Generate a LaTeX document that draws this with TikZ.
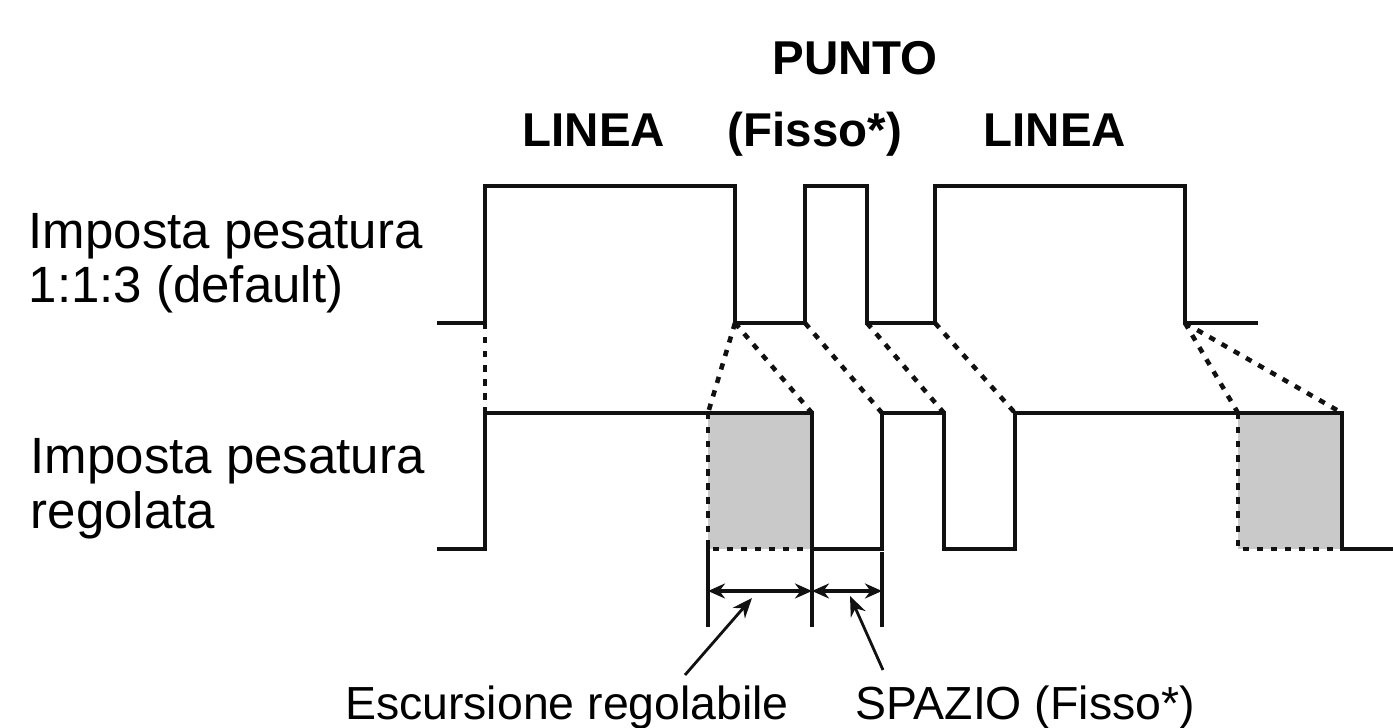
\documentclass[tikz,border=0pt]{standalone}
\usepackage{fontspec}
\setmainfont{Liberation Sans}
\usetikzlibrary{arrows.meta,positioning,calc}
\definecolor{ink}{HTML}{111111}
\definecolor{boxgray}{HTML}{C9C9C9}
\tikzset{
  wave/.style={draw=ink, line width=1.2pt, line join=miter},
  guide/.style={draw=ink, line width=1.3pt, dash pattern=on 1.8pt off 2.2pt},
  extline/.style={draw=ink, line width=0.9pt},
  dimarr/.style={{Stealth[length=1.7mm,width=1.5mm]}-{Stealth[length=1.7mm,width=1.5mm]}, draw=ink, line width=0.9pt},
  pointer/.style={-{Stealth[length=2mm,width=1.6mm]}, draw=ink, line width=0.8pt},
  rowlabel/.style={anchor=west, align=left, inner sep=0pt, font=\fontsize{14.5}{15.5}\selectfont},
  title/.style={anchor=base, inner sep=0pt, font=\fontsize{13.5}{15}\selectfont\bfseries},
  note/.style={anchor=base, inner sep=0pt, font=\fontsize{13.2}{15}\selectfont}
}

\begin{document}
\begin{tikzpicture}[x=0.01cm, y=-0.01cm]
    \useasboundingbox (0,0) rectangle (1393,728);
    % labels
    \node[rowlabel] (def) at (28,263) {Imposta pesatura\\1:1:3 (default)};
    \node[rowlabel] (reg) at (30,489) {Imposta pesatura\\regolata};
    \node[title] (punto) at (855,75) {PUNTO};
    \node[title] (linea1) at (594,147) {LINEA};
    \node[title] (fisso) at (815,147) {(Fisso*)};
    \node[title] (linea2) at (1055,147) {LINEA};
    % edges of the two waveforms
    \coordinate (t1) at (485,323); \coordinate (t2) at (735,323);
    \coordinate (t3) at (805,323); \coordinate (t4) at (867,323);
    \coordinate (t5) at (935,323); \coordinate (t6) at (1185,323);
    \coordinate (b1) at (485,413); \coordinate (b2a) at (708,413);
    \coordinate (b2) at (812,413); \coordinate (b3) at (882,413);
    \coordinate (b4) at (944,413); \coordinate (b5) at (1015,413);
    \coordinate (b6a) at (1238,413); \coordinate (b6) at (1342,413);
    % adjustable parts
    \fill[boxgray] (708,413) rectangle (812,549);
    \fill[boxgray] (1238,413) rectangle (1342,549);
    \draw[guide] (b2a) -- (708,549) -- (812,549);
    \draw[guide] (b6a) -- (1238,549) -- (1342,549);
    % waveforms
    \draw[wave] (437,323) -| (485,186) -| (t2) -| (805,186) -| (t4) -| (935,186) -| (t6) -- (1258,323);
    \draw[wave] (437,549) -| (b1) -| (812,549) -| (b3) -| (944,549) -| (b5) -| (1342,549) -- (1393,549);
    % projections
    \foreach \a/\b in {t1/b1, t2/b2a, t2/b2, t3/b3, t4/b4, t5/b5, t6/b6a, t6/b6}
      \draw[guide] (\a) -- (\b);
    % dimensions
    \draw[extline] (708,543) -- (708,627);
    \draw[extline] (812,549) -- (812,627);
    \draw[extline] (882,552) -- (882,627);
    \coordinate (d1) at (708,591); \coordinate (d2) at (812,591); \coordinate (d3) at (882,591);
    \draw[dimarr] (d1) -- (d2);
    \draw[dimarr] (d2) -- (d3);
    \node[note] (esc) at (567,720) {Escursione regolabile};
    \node[note] (spazio) at (1025,720) {SPAZIO (Fisso*)};
    \coordinate (escfrom) at (685,675); \coordinate (escto) at (752,598);
    \coordinate (spafrom) at (883,670); \coordinate (spato) at (850,596);
    \draw[pointer] (escfrom) -- (escto);
    \draw[pointer] (spafrom) -- (spato);
  \end{tikzpicture}
\end{document}
